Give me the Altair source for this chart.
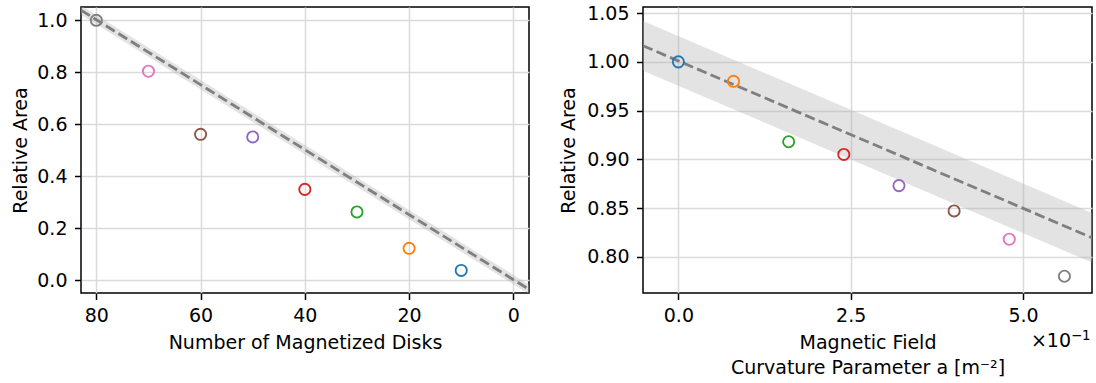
import altair as alt
import pandas as pd

# ---------------- data ----------------
disks = [80, 70, 60, 50, 40, 30, 20, 10]
disk_area = [1.0, 0.804, 0.561, 0.551, 0.349, 0.262, 0.122, 0.037]
disk_colors = ["#7f7f7f", "#e377c2", "#8c564b", "#9467bd",
               "#d62728", "#2ca02c", "#ff7f0e", "#1f77b4"]
disk_fit_x = [82.94, -3.0]
disk_fit_y = [1.039, -0.036]
disk_fit_err = [0.018, 0.018]

curv = [0.0, 0.08, 0.16, 0.24, 0.32, 0.40, 0.48, 0.56]
curv_area = [1.0, 0.980, 0.918, 0.905, 0.873, 0.847, 0.818, 0.780]
curv_colors = ["#1f77b4", "#ff7f0e", "#2ca02c", "#d62728",
               "#9467bd", "#8c564b", "#e377c2", "#7f7f7f"]
curv_fit_x = [-0.0513, 0.600]
curv_fit_y = [1.0165, 0.8195]
curv_fit_err = [0.0255, 0.0255]

disk_ticks = [80, 60, 40, 20, 0]
disk_yticks = [0.0, 0.2, 0.4, 0.6, 0.8, 1.0]
curv_ticks = [0.0, 0.25, 0.5]
curv_yticks = [0.80, 0.85, 0.90, 0.95, 1.00, 1.05]
offset_base = ["×10"]
offset_exp = ["−1"]

# ---------------- tables ----------------
df_disk = pd.DataFrame({"x": disks, "y": disk_area, "c": disk_colors})
df_disk_fit = pd.DataFrame({"x": disk_fit_x, "y": disk_fit_y,
                            "lo": [a - e for a, e in zip(disk_fit_y, disk_fit_err)],
                            "hi": [a + e for a, e in zip(disk_fit_y, disk_fit_err)]})
df_curv = pd.DataFrame({"x": curv, "y": curv_area, "c": curv_colors})
df_curv_fit = pd.DataFrame({"x": curv_fit_x, "y": curv_fit_y,
                            "lo": [a - e for a, e in zip(curv_fit_y, curv_fit_err)],
                            "hi": [a + e for a, e in zip(curv_fit_y, curv_fit_err)]})

FS = 19
FS_SUP = 13.3
W1, W2, H = 448, 449, 286


def panel(df, dffit, xdom, ydom, xaxis, yaxis):
    xs = alt.Scale(domain=xdom, nice=False, zero=False)
    ys = alt.Scale(domain=ydom, nice=False, zero=False)
    band = alt.Chart(dffit).mark_area(color="#b0b0b0", opacity=0.35, clip=True).encode(
        x=alt.X("x:Q", scale=xs, axis=xaxis),
        y=alt.Y("lo:Q", scale=ys, axis=yaxis),
        y2="hi:Q",
    )
    line = alt.Chart(dffit).mark_line(color="#7f7f7f", strokeWidth=2.8,
                                      strokeDash=[10.3, 4.4], clip=True).encode(
        x=alt.X("x:Q", scale=xs), y=alt.Y("y:Q", scale=ys))
    pts = alt.Chart(df).mark_point(shape="circle", filled=False, size=125,
                                   strokeWidth=1.85, opacity=1).encode(
        x=alt.X("x:Q", scale=xs), y=alt.Y("y:Q", scale=ys),
        color=alt.Color("c:N", scale=None, legend=None))
    return band, line, pts


left_xaxis = alt.Axis(values=disk_ticks, format="d", title="Number of Magnetized Disks",
                      titleX=W1 / 2, titleY=55, titleBaseline="alphabetic")
left_yaxis = alt.Axis(values=disk_yticks, format=".1f", title="Relative Area",
                      titleX=-55, titleY=H / 2, titleAngle=270,
                      titleBaseline="alphabetic", titleAlign="center")
b1, l1, p1 = panel(df_disk, df_disk_fit, [82.94, -3.0], [-0.050, 1.0513],
                   left_xaxis, left_yaxis)
left = alt.layer(b1, l1, p1).properties(width=W1, height=H)

right_xaxis = alt.Axis(values=curv_ticks, labelExpr="format(datum.value*10, '.1f')",
                       title=["Magnetic Field", "Curvature Parameter a [m⁻²]"],
                       titleX=W2 / 2, titleY=55, titleBaseline="alphabetic",
                       titleLineHeight=25)
right_yaxis = alt.Axis(values=curv_yticks, format=".2f", title="Relative Area",
                       titleX=-69, titleY=H / 2, titleAngle=270,
                       titleBaseline="alphabetic", titleAlign="center")
b2, l2, p2 = panel(df_curv, df_curv_fit, [-0.0513, 0.600], [0.7628, 1.0563],
                   right_xaxis, right_yaxis)
mult_base = alt.Chart(pd.DataFrame({"t": offset_base})).mark_text(
    align="right", baseline="alphabetic", fontSize=FS, font="DejaVu Sans", color="black"
).encode(x=alt.value(W2 - 21), y=alt.value(H + 53.5), text="t:N")
mult_exp = alt.Chart(pd.DataFrame({"t": offset_exp})).mark_text(
    align="right", baseline="alphabetic", fontSize=FS_SUP, font="DejaVu Sans", color="black"
).encode(x=alt.value(W2 - 1.5), y=alt.value(H + 46.5), text="t:N")
right = alt.layer(b2, l2, p2, mult_base, mult_exp).properties(width=W2, height=H)

chart = alt.hconcat(left, right, spacing=28).properties(
    padding={"left": 10, "top": 3, "right": 2, "bottom": 2}
).configure(font="DejaVu Sans").configure_axis(
    labelFont="DejaVu Sans", titleFont="DejaVu Sans",
    labelFontSize=FS, titleFontSize=FS, titleFontWeight="normal",
    labelColor="black", titleColor="black",
    tickColor="black", tickWidth=1.5, tickSize=6.5,
    domain=False, grid=True, gridColor="#dadada", gridWidth=1.5,
).configure_axisX(labelPadding=6.5).configure_axisY(labelPadding=7.5
).configure_view(stroke="black", strokeWidth=1.5)

chart.save("out.html", embed_options={"renderer": "svg", "actions": False})
